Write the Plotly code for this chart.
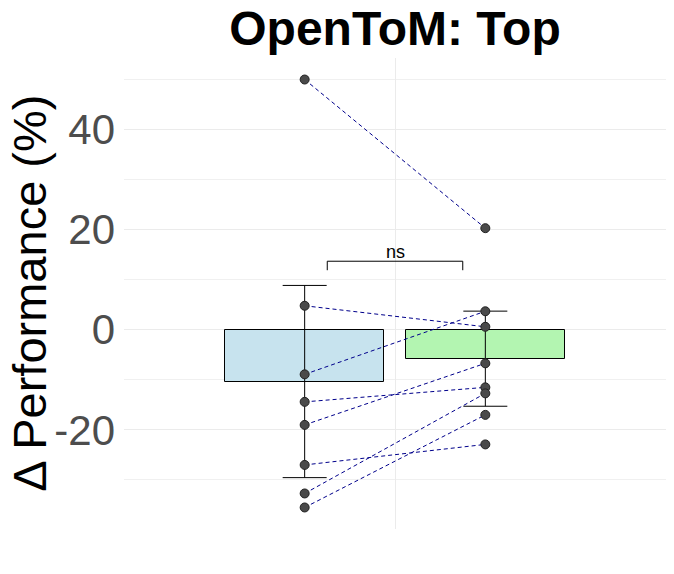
import plotly.graph_objects as go

# ---- data ----
groups = ["Baseline", "Top"]
group_x = [-0.2, 0.2]
left_values = [50.0, 4.8, -8.9, -14.4, -19.0, -27.0, -32.7, -35.5]
right_values = [20.3, 0.6, 3.7, -11.5, -6.7, -22.9, -12.7, -17.0]
error_half = [19.2, 9.5]
bar_colors = ["#C7E3EE", "#B3F5B1"]
sig_label = "ns"
sig_y = [11.9, 13.7]
y_ticks = [-20, 0, 20, 40]
y_ticktext = ["-20", "0", "20", "40"]

means = [sum(left_values) / len(left_values), sum(right_values) / len(right_values)]

fig = go.Figure()

fig.add_trace(go.Bar(
    x=group_x, y=means, width=0.352,
    marker=dict(color=bar_colors, line=dict(color="black", width=1)),
    error_y=dict(type="data", array=error_half, visible=True,
                 color="black", thickness=1, width=22),
    showlegend=False, hoverinfo="skip"))

# paired dashed lines
lx, ly = [], []
for a, b in zip(left_values, right_values):
    lx += [group_x[0], group_x[1], None]
    ly += [a, b, None]
fig.add_trace(go.Scatter(x=lx, y=ly, mode="lines",
                         line=dict(color="#00008B", width=1, dash="4px,3px"),
                         showlegend=False, hoverinfo="skip"))

# points
fig.add_trace(go.Scatter(
    x=[group_x[0]] * len(left_values) + [group_x[1]] * len(right_values),
    y=left_values + right_values, mode="markers",
    marker=dict(size=9, color="#4A4A4A", line=dict(color="#222222", width=1)),
    showlegend=False))

# significance bracket
fig.add_trace(go.Scatter(x=[-0.15, -0.15, 0.15, 0.15],
                         y=[sig_y[0], sig_y[1], sig_y[1], sig_y[0]],
                         mode="lines", line=dict(color="black", width=1),
                         showlegend=False, hoverinfo="skip"))
fig.add_annotation(x=0, y=sig_y[1], text=sig_label, showarrow=False,
                   yanchor="bottom", yshift=-3,
                   font=dict(size=18, color="black", family="Liberation Sans, Arial"))

fig.add_annotation(xref="paper", yref="paper", x=-0.175, y=0.5,
                   text="Δ Performance (%)", textangle=-90, showarrow=False,
                   xanchor="center", yanchor="middle",
                   font=dict(size=47, color="black", family="Liberation Sans, Arial"))

fig.update_layout(
    width=674, height=574,
    margin=dict(l=124, r=8, t=58, b=45, autoexpand=False),
    paper_bgcolor="white", plot_bgcolor="white",
    font=dict(family="Liberation Sans, Arial"),
    title=dict(text="<b>OpenToM: Top</b>", x=0.5, xanchor="center",
               xref="paper", yref="container", y=1 - 28 / 574, yanchor="middle",
               font=dict(size=48, color="black", family="Liberation Sans, Arial")),
    xaxis=dict(range=[-0.6, 0.6], tickvals=[0], showticklabels=False,
               showgrid=True, gridcolor="#EBEBEB", gridwidth=1, automargin=False,
               zeroline=False, showline=False, fixedrange=True),
    yaxis=dict(range=[-39.8, 54.3], tickvals=y_ticks, ticktext=y_ticktext,
               tickfont=dict(size=42, color="#4D4D4D"), automargin=False,
               showgrid=True, gridcolor="#EBEBEB", gridwidth=1,
               minor=dict(tickvals=[-30, -10, 10, 30, 50], showgrid=True,
                          gridcolor="#F0F0F0", gridwidth=1),
               zeroline=False, showline=False, ticks="", ticklabelstandoff=8),
    bargap=0,
)

fig.write_html("out.html", config={"displayModeBar": False},
               post_script="document.body.style.margin='0';document.body.style.overflow='hidden';")
